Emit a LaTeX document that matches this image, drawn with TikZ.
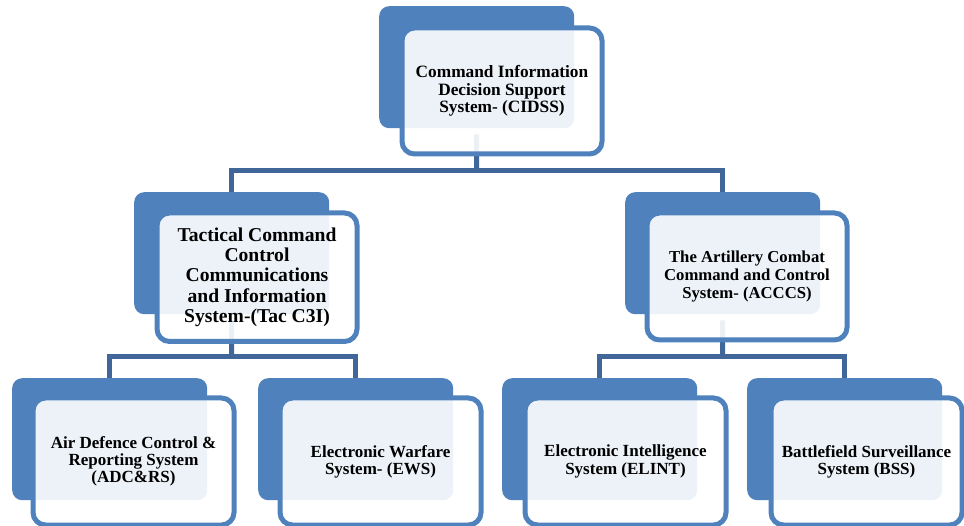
\documentclass[tikz,border=0pt]{standalone}
\usepackage{fontspec}
\setmainfont{Liberation Serif}
\definecolor{backblue}{HTML}{4F81BD}
\definecolor{linkblue}{HTML}{41679A}
\tikzset{
  backbox/.style={fill=backblue, rounded corners=10pt, anchor=north west, inner sep=0pt,
    minimum width=195pt, minimum height=122pt},
  frontbox/.style={draw=backblue, line width=5pt, fill=white, fill opacity=0.9, text opacity=1,
    rounded corners=12.5pt, anchor=north west, inner sep=0pt, align=center, text=black},
  link/.style={draw=linkblue, line width=5pt},
  fa/.style={font=\bfseries\fontsize{17.3}{17.6}\selectfont},
  fb/.style={font=\bfseries\fontsize{19.6}{20.3}\selectfont},
  fc/.style={font=\bfseries\fontsize{16.7}{17.8}\selectfont},
  fd/.style={font=\bfseries\fontsize{17}{17.2}\selectfont}
}
\begin{document}
\begin{tikzpicture}[x=1pt,y=-1pt]
\useasboundingbox (0,0) rectangle (964,526);
% back boxes
\node[backbox] (tb) at (379,6) {};
\node[backbox] (lb) at (134,192) {};
\node[backbox] (rb) at (625,192) {};
\node[backbox] (ab) at (12,378) {};
\node[backbox] (eb) at (258,378) {};
\node[backbox] (ib) at (502,378) {};
\node[backbox] (sb) at (747,378) {};
% junctions
\coordinate (j0) at (476.5,170.5);
\coordinate (jl) at (231.5,357);
\coordinate (jr) at (722.5,357);
% connectors
\draw[link] ([yshift=-6pt]tb.south) -- (j0);
\draw[link] (lb.north) |- (j0) -| (rb.north);
\draw[link] ([yshift=-6pt]lb.south) -- (jl);
\draw[link] (ab.north) |- (jl) -| (eb.north);
\draw[link] ([yshift=-6pt]rb.south) -- (jr);
\draw[link] (ib.north) |- (jr) -| (sb.north);
% front boxes
\node[frontbox, fa, minimum width=200pt, minimum height=126pt] (tf) at (399.5,25.5)
  {Command Information\\Decision Support\\System- (CIDSS)};
\node[frontbox, fb, minimum width=200pt, minimum height=128.5pt] (lf) at (154.5,210.5)
  {Tactical Command\\Control\\Communications\\and Information\\System-(Tac C3I)};
\node[frontbox, fc, minimum width=200pt, minimum height=127pt] (rf) at (644.5,210.5)
  {The Artillery Combat\\Command and Control\\System- (ACCCS)};
\node[frontbox, fd, minimum width=201pt, minimum height=127pt] (af) at (30.5,395.5)
  {Air Defence Control \&\\Reporting System\\(ADC\&RS)};
\node[frontbox, fd, minimum width=201pt, minimum height=127pt] (ef) at (277.5,395.5)
  {Electronic Warfare\\System- (EWS)};
\node[frontbox, fd, minimum width=201pt, minimum height=127pt] (if) at (522.5,395.5)
  {Electronic Intelligence\\System (ELINT)};
\node[frontbox, fd, minimum width=191pt, minimum height=127pt] (sf) at (768.5,395.5)
  {Battlefield Surveillance\\System (BSS)};
\end{tikzpicture}
\end{document}
